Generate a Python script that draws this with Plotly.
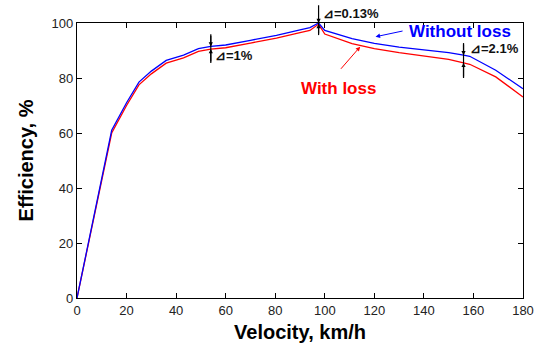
import plotly.graph_objects as go

velocity = [0, 14, 20, 25, 30, 36, 43, 49, 54, 60, 70, 80.5, 90, 94, 97.5, 100, 111, 120, 130, 140, 150, 156, 158.5, 169, 180]
eff_without = [0, 61, 71, 78.5, 82.5, 86.4, 88.3, 90.7, 91.5, 92, 93.7, 95.5, 97.5, 98.3, 100, 97.3, 94.3, 92.6, 91.2, 90.2, 89.2, 88.3, 87.9, 82.8, 76.1]
eff_with = [0, 60, 70, 77.5, 81.5, 85.4, 87.3, 89.7, 90.5, 91, 92.7, 94.5, 96.5, 97.3, 99.6, 96, 92.5, 90.7, 89.2, 88, 86.8, 85.5, 85, 80.4, 73.1]

delta_v = [54, 97.5, 156]
delta_top = [91.5, 100, 88.3]
delta_bot = [90.5, 99.6, 85.5]
delta_labels = ["⊿=1%", "⊿=0.13%", "⊿=2.1%"]

fig = go.Figure()
fig.add_trace(go.Scatter(x=velocity, y=eff_with, mode="lines",
                         line=dict(color="#ff0000", width=1.3), showlegend=False))
fig.add_trace(go.Scatter(x=velocity, y=eff_without, mode="lines",
                         line=dict(color="#0000ff", width=1.3), showlegend=False))

ann = []
shapes = []
up_len = [4.4, 7, 4.4]
down_len = [5, 4, 5.5]
for v, t, b, ul, dl in zip(delta_v, delta_top, delta_bot, up_len, down_len):
    shapes.append(dict(type="line", xref="x", yref="y", x0=v, x1=v, y0=b - dl, y1=t + ul,
                       line=dict(color="black", width=1.2)))
    ann.append(dict(x=v, y=t, ax=v, ay=t + ul, xref="x", yref="y", axref="x", ayref="y",
                    showarrow=True, arrowhead=2, arrowsize=0.7, arrowwidth=1.2, arrowcolor="black", text=""))
    ann.append(dict(x=v, y=b, ax=v, ay=b - dl, xref="x", yref="y", axref="x", ayref="y",
                    showarrow=True, arrowhead=2, arrowsize=0.7, arrowwidth=1.2, arrowcolor="black", text=""))

label_font = dict(family="Liberation Sans", size=13, color="#111")
ann.append(dict(x=54.8, y=88.3, xref="x", yref="y", text="<b>" + delta_labels[0] + "</b>",
                showarrow=False, xanchor="left", yanchor="middle", font=label_font))
ann.append(dict(x=98.4, y=1.033, xref="x", yref="paper", text="<b>" + delta_labels[1] + "</b>",
                showarrow=False, xanchor="left", yanchor="middle", font=label_font))
ann.append(dict(x=157.7, y=90.7, xref="x", yref="y", text="<b>" + delta_labels[2] + "</b>",
                showarrow=False, xanchor="left", yanchor="middle", font=label_font))

ann.append(dict(x=154.6, y=97, xref="x", yref="y", text="<b>Without loss</b>", showarrow=False,
                yanchor="middle", font=dict(family="Liberation Sans", size=17, color="#0000ff")))
ann.append(dict(x=120.5, y=95.0, ax=132, ay=97.2, xref="x", yref="y", axref="x", ayref="y", text="",
                showarrow=True, arrowhead=2, arrowsize=0.9, arrowwidth=1, arrowcolor="#0000ff"))
ann.append(dict(x=105.6, y=76.3, xref="x", yref="y", text="<b>With loss</b>", showarrow=False,
                yanchor="middle", font=dict(family="Liberation Sans", size=17, color="#ff0000")))
ann.append(dict(x=114.3, y=91.4, ax=106, ay=82.8, xref="x", yref="y", axref="x", ayref="y", text="",
                showarrow=True, arrowhead=2, arrowsize=0.9, arrowwidth=1, arrowcolor="#ff0000"))

axis_common = dict(showgrid=False, zeroline=False, showline=True, linecolor="black", linewidth=1.2,
                   mirror="ticks", ticks="inside", ticklen=5, tickcolor="black", automargin=False,
                   tickfont=dict(family="Liberation Sans", size=13, color="#222"))
fig.update_xaxes(range=[0, 180], tickvals=list(range(0, 181, 20)),
                 title=dict(text="<b>Velocity, km/h</b>", standoff=8,
                            font=dict(family="Liberation Sans", size=20, color="black")),
                 **axis_common)
fig.update_yaxes(range=[0, 100], tickvals=list(range(0, 101, 20)),
                 title=dict(text="<b>Efficiency, %</b>", standoff=12,
                            font=dict(family="Liberation Sans", size=20, color="black")),
                 **axis_common)
fig.update_layout(width=541, height=351, margin=dict(l=77, r=18, t=23, b=53),
                  plot_bgcolor="white", paper_bgcolor="white", annotations=ann, shapes=shapes)
fig.write_html("out.html")
